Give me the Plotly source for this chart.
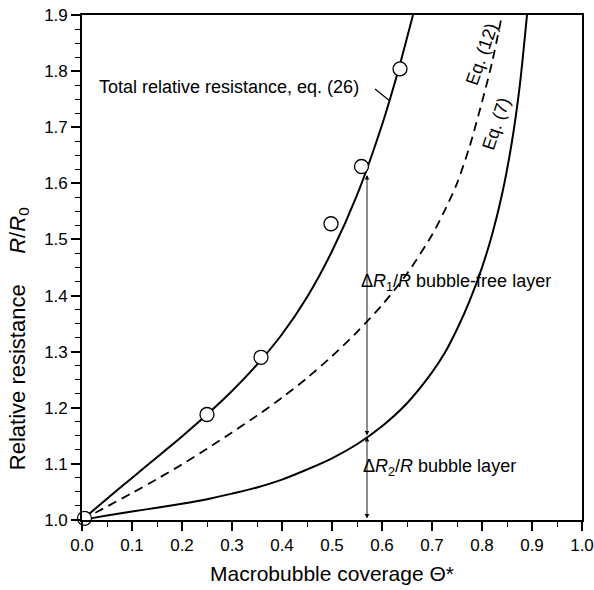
import plotly.graph_objects as go

# ---- data ----
theta_total = [0, 0.05, 0.1, 0.15, 0.2, 0.25, 0.3, 0.35, 0.4, 0.45, 0.5, 0.55, 0.6, 0.63, 0.662]
r_total = [1.000, 1.038, 1.075, 1.112, 1.149, 1.188, 1.230, 1.277, 1.331, 1.397, 1.479, 1.579, 1.704, 1.793, 1.900]

theta_eq12 = [0, 0.05, 0.1, 0.15, 0.2, 0.25, 0.3, 0.35, 0.4, 0.45, 0.5, 0.55, 0.6, 0.65, 0.7, 0.725, 0.75, 0.775, 0.8, 0.82, 0.84]
r_eq12 = [1.000, 1.024, 1.048, 1.073, 1.099, 1.127, 1.156, 1.186, 1.218, 1.253, 1.292, 1.335, 1.383, 1.439, 1.508, 1.551, 1.600, 1.665, 1.745, 1.815, 1.900]

theta_eq7 = [0, 0.05, 0.1, 0.15, 0.2, 0.25, 0.3, 0.35, 0.4, 0.45, 0.5, 0.55, 0.6, 0.65, 0.7, 0.725, 0.75, 0.775, 0.8, 0.82, 0.84, 0.86, 0.875, 0.89]
r_eq7 = [1.000, 1.008, 1.015, 1.022, 1.029, 1.037, 1.047, 1.058, 1.072, 1.090, 1.110, 1.135, 1.167, 1.208, 1.263, 1.297, 1.340, 1.390, 1.450, 1.508, 1.580, 1.675, 1.770, 1.900]

theta_exp = [0.005, 0.25, 0.358, 0.498, 0.559, 0.636]
r_exp = [1.003, 1.188, 1.290, 1.528, 1.630, 1.804]

x_ticks = [0.0, 0.1, 0.2, 0.3, 0.4, 0.5, 0.6, 0.7, 0.8, 0.9, 1.0]
y_ticks = [1.0, 1.1, 1.2, 1.3, 1.4, 1.5, 1.6, 1.7, 1.8, 1.9]

theta_arrow = 0.57
r_arrow_top = 1.615
r_arrow_mid = 1.148
r_arrow_bot = 1.0

FONT = "Liberation Sans, Arial, sans-serif"

fig = go.Figure()
fig.add_trace(go.Scatter(x=theta_total, y=r_total, mode="lines", line=dict(color="black", width=2, shape="spline", smoothing=0.8), showlegend=False))
fig.add_trace(go.Scatter(x=theta_eq12, y=r_eq12, mode="lines", line=dict(color="black", width=1.8, dash="9px,6px", shape="spline", smoothing=0.8), showlegend=False))
fig.add_trace(go.Scatter(x=theta_eq7, y=r_eq7, mode="lines", line=dict(color="black", width=2, shape="spline", smoothing=0.8), showlegend=False))
fig.add_trace(go.Scatter(x=theta_exp, y=r_exp, mode="markers", cliponaxis=False,
                         marker=dict(symbol="circle", size=14, color="white", line=dict(color="black", width=1.3)),
                         showlegend=False))

ann = []
ann.append(dict(x=0.03, y=1.772, xref="x", yref="y", text="Total relative resistance, eq. (26)",
                showarrow=False, xanchor="left", yanchor="middle", font=dict(size=18, family=FONT, color="black")))
ann.append(dict(x=0.800, y=1.830, xref="x", yref="y", text="Eq. (12)", textangle=-71,
                showarrow=False, font=dict(size=18, family=FONT, color="black")))
ann.append(dict(x=0.829, y=1.705, xref="x", yref="y", text="Eq. (7)", textangle=-72,
                showarrow=False, font=dict(size=18, family=FONT, color="black")))
ann.append(dict(x=0.554, y=1.424, xref="x", yref="y", text="Δ<i>R</i><sub>1</sub>/<i>R</i> bubble-free layer",
                showarrow=False, xanchor="left", yanchor="middle", font=dict(size=18, family=FONT, color="black")))
ann.append(dict(x=0.558, y=1.093, xref="x", yref="y", text="Δ<i>R</i><sub>2</sub>/<i>R</i> bubble layer",
                showarrow=False, xanchor="left", yanchor="middle", font=dict(size=18, family=FONT, color="black")))
# double-headed arrows
for y0, y1 in [(r_arrow_mid, r_arrow_top), (r_arrow_bot, r_arrow_mid)]:
    ann.append(dict(x=theta_arrow, y=y1, ax=theta_arrow, ay=y0, xref="x", yref="y", axref="x", ayref="y",
                    text="", showarrow=True, arrowhead=2, arrowside="end+start", arrowsize=1.0,
                    arrowwidth=0.9, arrowcolor="black", standoff=0, startstandoff=0))
# axis titles as annotations (paper coords)
ann.append(dict(x=-0.126, y=0.358, xref="paper", yref="paper",
                text="Relative resistance     <i>R</i>/<i>R</i><sub>0</sub>",
                textangle=-90, showarrow=False, xanchor="center", yanchor="middle",
                font=dict(size=22, family=FONT, color="black")))
ann.append(dict(x=0.5, y=-0.105, xref="paper", yref="paper", text="Macrobubble coverage Θ*",
                showarrow=False, xanchor="center", yanchor="middle",
                font=dict(size=21, family=FONT, color="black")))

fig.update_layout(
    width=594, height=590,
    margin=dict(l=82, r=12, t=15, b=70, autoexpand=False),
    paper_bgcolor="white", plot_bgcolor="white",
    annotations=ann,
    shapes=[dict(type="line", xref="x", yref="y", x0=0.586, y0=1.768, x1=0.614, y1=1.748,
                 line=dict(color="black", width=1.2))],
    font=dict(family=FONT, color="black"),
)
fig.update_xaxes(range=[0, 1], tickvals=x_ticks, ticktext=[f"{v:.1f}" for v in x_ticks],
                 showline=True, linecolor="black", linewidth=1.6, mirror=True, automargin=False,
                 ticks="outside", ticklen=9, tickwidth=1.5, tickcolor="black",
                 minor=dict(dtick=0.05, ticks="outside", ticklen=5, tickwidth=1.2, tickcolor="black"),
                 showgrid=False, zeroline=False, tickfont=dict(size=17, family=FONT))
fig.update_yaxes(range=[1, 1.9], tickvals=y_ticks, ticktext=[f"{v:.1f}" for v in y_ticks],
                 showline=True, linecolor="black", linewidth=1.6, mirror=True, automargin=False,
                 ticks="outside", ticklen=9, tickwidth=1.5, tickcolor="black",
                 minor=dict(dtick=0.025, ticks="outside", ticklen=5, tickwidth=1.2, tickcolor="black"),
                 showgrid=False, zeroline=False, tickfont=dict(size=17, family=FONT))

fig.write_html("out.html", config={"displayModeBar": False},
               post_script="document.body.style.margin='0px';")
